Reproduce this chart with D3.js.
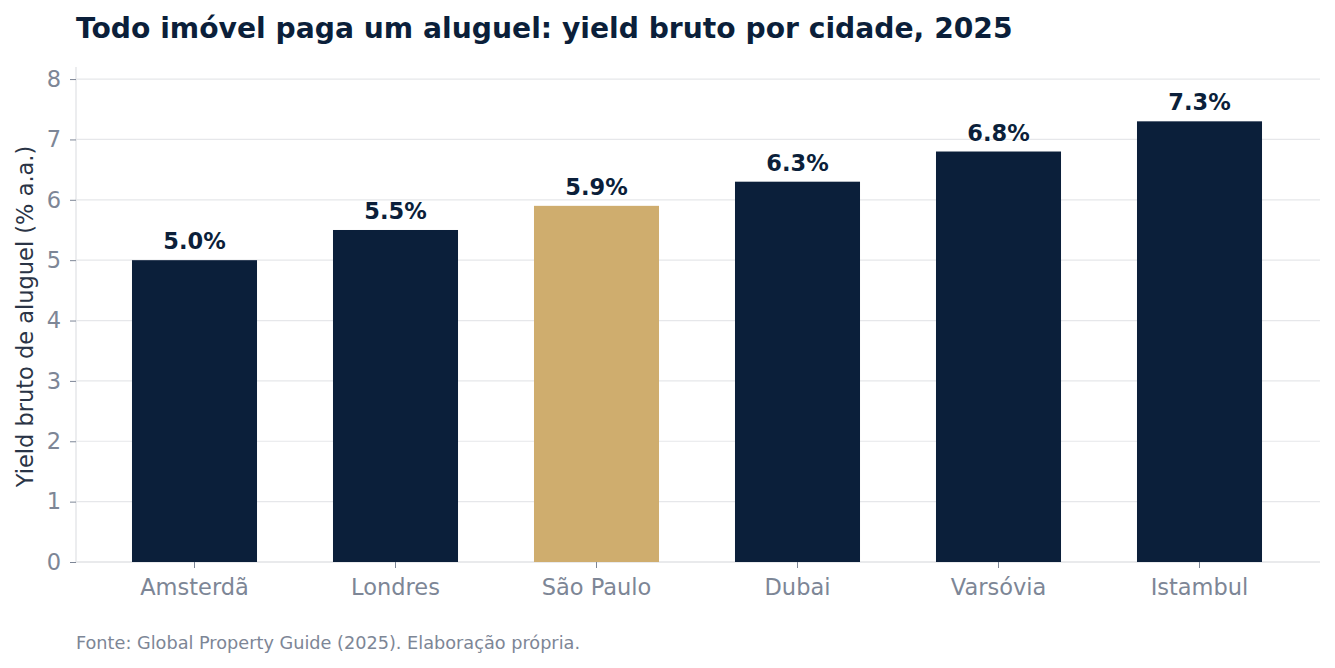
<!DOCTYPE html>
<html>
<head>
<meta charset="utf-8">
<script src="https://cdn.jsdelivr.net/npm/d3@7"></script>
<style>
  body { margin: 0; background: #fff; }
  svg { font-family: "DejaVu Sans", sans-serif; }
</style>
</head>
<body>
<svg width="1335" height="668"></svg>
<script>
// Data
const cities = ["Amsterdã", "Londres", "São Paulo", "Dubai", "Varsóvia", "Istambul"];
const yields = [5.0, 5.5, 5.9, 6.3, 6.8, 7.3];
const highlight = ["São Paulo"];
const yTicks = [0, 1, 2, 3, 4, 5, 6, 7, 8];

const svg = d3.select("svg");

const navy = "#0b1f3a",
  gold = "#cfad6e",
  grey = "#7d8696",
  gridColor = "#e6e7ea";

// Plot area
const plotLeft = 76, plotRight = 1320, plotTop = 67, plotBottom = 562;

const x = d3.scaleBand()
  .domain(cities)
  .range([94, 1300])
  .paddingInner(0.378)
  .paddingOuter(0.189);

const y = d3.scaleLinear()
  .domain([0, 8.2])
  .range([plotBottom, plotTop]);

// Gridlines
svg.append("g")
  .selectAll("line")
  .data(yTicks)
  .join("line")
  .attr("x1", plotLeft)
  .attr("x2", plotRight)
  .attr("y1", d => y(d))
  .attr("y2", d => y(d))
  .attr("stroke", gridColor)
  .attr("stroke-width", 1.2);

// Spines
svg.append("line")
  .attr("x1", plotLeft).attr("x2", plotLeft)
  .attr("y1", plotTop).attr("y2", plotBottom)
  .attr("stroke", gridColor).attr("stroke-width", 1.5);
svg.append("line")
  .attr("x1", plotLeft).attr("x2", plotRight)
  .attr("y1", plotBottom).attr("y2", plotBottom)
  .attr("stroke", gridColor).attr("stroke-width", 1.5);

// Bars
svg.append("g")
  .selectAll("rect")
  .data(cities)
  .join("rect")
  .attr("x", d => x(d))
  .attr("width", x.bandwidth())
  .attr("y", (d, i) => y(yields[i]))
  .attr("height", (d, i) => y(0) - y(yields[i]))
  .attr("fill", d => highlight.includes(d) ? gold : navy);

// Value labels
svg.append("g")
  .selectAll("text")
  .data(cities)
  .join("text")
  .attr("x", d => x(d) + x.bandwidth() / 2)
  .attr("y", (d, i) => y(yields[i]) - 11)
  .attr("text-anchor", "middle")
  .attr("font-size", 22.5)
  .attr("font-weight", "bold")
  .attr("fill", navy)
  .text((d, i) => yields[i].toFixed(1) + "%");

// Y axis
const yAxis = svg.append("g")
  .attr("transform", `translate(${plotLeft},0)`)
  .call(d3.axisLeft(y).tickValues(yTicks).tickSize(6).tickPadding(9));
yAxis.select(".domain").remove();
yAxis.selectAll(".tick line").attr("stroke", grey);
yAxis.selectAll(".tick text")
  .attr("fill", grey)
  .attr("font-size", 22.5)
  .attr("font-family", "DejaVu Sans");

// X axis
const xAxis = svg.append("g")
  .attr("transform", `translate(0,${plotBottom})`)
  .call(d3.axisBottom(x).tickSize(6).tickPadding(11));
xAxis.select(".domain").remove();
xAxis.selectAll(".tick line").attr("stroke", grey);
xAxis.selectAll(".tick text")
  .attr("fill", grey)
  .attr("font-size", 22.5)
  .attr("font-family", "DejaVu Sans");

// Y label
svg.append("text")
  .attr("transform", `translate(33,${(plotTop + plotBottom) / 2 + 2}) rotate(-90)`)
  .attr("text-anchor", "middle")
  .attr("font-size", 22.5)
  .attr("fill", "#2a3446")
  .text("Yield bruto de aluguel (% a.a.)");

// Title
svg.append("text")
  .attr("x", 76)
  .attr("y", 38)
  .attr("font-size", 28.2)
  .attr("font-weight", "bold")
  .attr("fill", navy)
  .text("Todo imóvel paga um aluguel: yield bruto por cidade, 2025");

// Footer
svg.append("text")
  .attr("x", 76)
  .attr("y", 649)
  .attr("font-size", 17.7)
  .attr("fill", grey)
  .text("Fonte: Global Property Guide (2025). Elaboração própria.");
</script>
</body>
</html>
